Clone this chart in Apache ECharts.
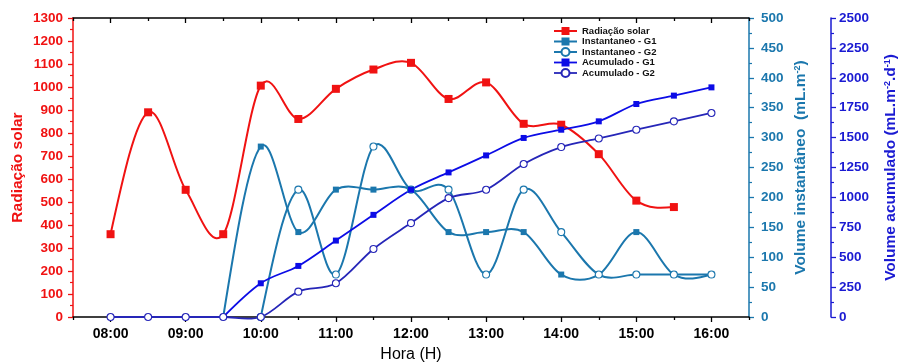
<!DOCTYPE html>
<html>
<head>
<meta charset="utf-8">
<script src="https://cdn.jsdelivr.net/npm/echarts@6/dist/echarts.min.js"></script>
<style>
  html, body { margin: 0; padding: 0; background: #fff; }
  #chart { width: 899px; height: 362px; }
</style>
</head>
<body>
<div id="chart"></div>
<script>
// Sampling times (half-hourly)
const times = ['08:00','08:30','09:00','09:30','10:00','10:30','11:00','11:30','12:00',
               '12:30','13:00','13:30','14:00','14:30','15:00','15:30','16:00'];

// Solar radiation (left axis)
const radiacaoSolar = [360, 890, 553, 360, 1006, 861, 992, 1076, 1105, 948, 1020, 840, 836, 708, 506, 478, null];

// Instantaneous volume, mL.m-2 (first right axis)
const instantaneoG1 = [null, null, null, 0, 285, 142, 213, 213, 213, 142, 142, 142, 71, 71, 142, 71, 71];
const instantaneoG2 = [null, null, null, null, 0, 213, 71, 285, 213, 213, 71, 213, 142, 71, 71, 71, 71];

// Accumulated volume, mL.m-2.d-1 (second right axis)
const acumuladoG1 = [null, null, null, 0, 282, 427, 639, 854, 1064, 1209, 1351, 1497, 1566, 1636, 1781, 1851, 1920];
const acumuladoG2 = [0, 0, 0, 0, 0, 212, 282, 569, 785, 994, 1064, 1279, 1421, 1493, 1566, 1636, 1706];

// Hour tick labels and half-hour minor ticks on the time axis
const hourLabels = ['08:00','09:00','10:00','11:00','12:00','13:00','14:00','15:00','16:00'];
const halfHourTicks = ['07:30','08:30','09:30','10:30','11:30','12:30','13:30','14:30','15:30','16:30'];

const toHours = s => { const p = s.split(':').map(Number); return p[0] + p[1] / 60; };
const pad2 = n => (n < 10 ? '0' : '') + n;
const fmtHour = v => pad2(Math.floor(v + 1e-6)) + ':' + pad2(Math.round((v - Math.floor(v + 1e-6)) * 60));

const pairs = arr => times.map((t, i) => [toHours(t), arr[i]]).filter(p => p[1] !== null);

const FONT = '"Liberation Sans", Arial, Helvetica, sans-serif';
const RED = '#f01212';
const TEAL = '#1b77ad';
const BLUE = '#0c0ce6';
const NAVY = '#2626b8';
const BLUE_AXIS = '#1a1ad2';

const X_MIN = 7.5, X_MAX = 16.5;
const hourVals = hourLabels.map(toHours);
const halfVals = halfHourTicks.map(toHours);

// Catmull-Rom spline through pixel points, as SVG path data.
// End tangents are chosen so the curve has zero curvature at the ends.
function splinePath(px) {
  const n = px.length;
  if (n < 2) return '';
  const tan = new Array(n);
  for (let i = 1; i < n - 1; i++) {
    tan[i] = [(px[i + 1][0] - px[i - 1][0]) / 2, (px[i + 1][1] - px[i - 1][1]) / 2];
  }
  if (n === 2) {
    tan[0] = [px[1][0] - px[0][0], px[1][1] - px[0][1]];
    tan[1] = tan[0];
  } else {
    tan[0] = [(3 * (px[1][0] - px[0][0]) - tan[1][0]) / 2, (3 * (px[1][1] - px[0][1]) - tan[1][1]) / 2];
    const k = n - 1;
    tan[k] = [(3 * (px[k][0] - px[k - 1][0]) - tan[k - 1][0]) / 2, (3 * (px[k][1] - px[k - 1][1]) - tan[k - 1][1]) / 2];
  }
  let path = 'M' + px[0][0] + ' ' + px[0][1];
  for (let i = 0; i < n - 1; i++) {
    const a = px[i], b = px[i + 1];
    path += ' C' + (a[0] + tan[i][0] / 3) + ' ' + (a[1] + tan[i][1] / 3) + ' ' +
            (b[0] - tan[i + 1][0] / 3) + ' ' + (b[1] - tan[i + 1][1] / 3) + ' ' +
            b[0] + ' ' + b[1];
  }
  return path;
}

function timeAxis(pos, withLabels, tickVals, tickLen, showLine) {
  const ax = {
    type: 'value', min: X_MIN, max: X_MAX, position: pos, gridIndex: 0,
    axisLine: { show: showLine, onZero: false, lineStyle: { color: '#000', width: 1.5 } },
    axisTick: { show: true, inside: pos === 'top', length: tickLen, customValues: tickVals,
                lineStyle: { color: '#000', width: 1.3 } },
    axisLabel: { show: withLabels },
    splitLine: { show: false }
  };
  if (withLabels) {
    ax.axisLabel = {
      show: true, customValues: hourVals, formatter: v => fmtHour(v),
      color: '#000', fontFamily: FONT, fontWeight: 'bold', fontSize: 14, margin: 10
    };
    ax.name = 'Hora (H)';
    ax.nameLocation = 'middle';
    ax.nameGap = 30;
    ax.nameMoveOverlap = false;
    ax.nameTextStyle = { color: '#000', fontFamily: FONT, fontSize: 16 };
  }
  return ax;
}

function valueAxis(opts) {
  return {
    type: 'value', min: 0, max: opts.max, interval: opts.interval,
    position: opts.position, offset: opts.offset || 0,
    axisLine: { show: true, onZero: false, lineStyle: { color: opts.color, width: 1.5 } },
    axisTick: { show: true, length: 5, lineStyle: { color: opts.color, width: 1.3 } },
    minorTick: { show: true, splitNumber: 2, length: 3, lineStyle: { color: opts.color, width: 1.2 } },
    axisLabel: { color: opts.color, fontFamily: FONT, fontWeight: 'bold', fontSize: 13.5,
                 margin: opts.margin, formatter: v => String(v) },
    splitLine: { show: false },
    minorSplitLine: { show: false },
    name: opts.name, nameLocation: 'middle', nameGap: opts.nameGap, nameMoveOverlap: false,
    nameTextStyle: {
      color: opts.color, fontFamily: FONT, fontWeight: 'bold', fontSize: 15.5,
      rich: { s: { color: opts.color, fontFamily: FONT, fontWeight: 'bold', fontSize: 9, verticalAlign: 'top', lineHeight: 9 } }
    }
  };
}

// Markers (and legend entry) for one plot; the curve itself is drawn by curveSeries
function markerSeries(name, arr, yIdx, color, symbol, size, filled, width) {
  return {
    name: name, type: 'line', xAxisIndex: 0, yAxisIndex: yIdx,
    data: pairs(arr), smooth: false,
    symbol: symbol, symbolSize: size, showSymbol: true,
    lineStyle: { color: color, width: width, opacity: 0 },
    itemStyle: filled ? { color: color, borderWidth: 0 }
                      : { color: '#fff', borderColor: color, borderWidth: 1.1 },
    emphasis: { disabled: true },
    z: 4
  };
}

// Spline curve through the data points, positioned with the axes' scales
function curveSeries(arr, yIdx, color, width) {
  const pts = pairs(arr);
  return {
    type: 'custom', xAxisIndex: 0, yAxisIndex: yIdx, silent: true, z: 3,
    data: pts, encode: { x: 0, y: 1 },
    renderItem: (params, api) => {
      if (params.dataIndex !== 0) return null;
      const px = pts.map(p => api.coord(p));
      return {
        type: 'path',
        shape: { pathData: splinePath(px) },
        style: { fill: 'none', stroke: color, lineWidth: width, lineJoin: 'round' }
      };
    }
  };
}

const plots = [
  { name: 'Radiação solar',   arr: radiacaoSolar, y: 0, color: RED,  symbol: 'rect',   size: 8, filled: true,  width: 2 },
  { name: 'Instantaneo - G1', arr: instantaneoG1, y: 1, color: TEAL, symbol: 'rect',   size: 6, filled: true,  width: 2 },
  { name: 'Instantaneo - G2', arr: instantaneoG2, y: 1, color: TEAL, symbol: 'circle', size: 7, filled: false, width: 2 },
  { name: 'Acumulado - G1',   arr: acumuladoG1,   y: 2, color: BLUE, symbol: 'rect',   size: 6, filled: true,  width: 1.8 },
  { name: 'Acumulado - G2',   arr: acumuladoG2,   y: 2, color: NAVY, symbol: 'circle', size: 7, filled: false, width: 1.8 }
];

const series = [];
plots.forEach(p => series.push(curveSeries(p.arr, p.y, p.color, p.width)));
plots.forEach(p => series.push(markerSeries(p.name, p.arr, p.y, p.color, p.symbol, p.size, p.filled, p.width)));

const chart = echarts.init(document.getElementById('chart'), null, { renderer: 'canvas' });
chart.setOption({
  animation: false,
  backgroundColor: '#fff',
  grid: { left: 73, right: 150, top: 18, bottom: 45, containLabel: false, outerBoundsMode: 'none' },
  legend: {
    orient: 'vertical', left: 553, top: 26, padding: 0,
    itemWidth: 23, itemHeight: 10, itemGap: 0.5,
    textStyle: { color: '#111', fontFamily: FONT, fontWeight: 'bold', fontSize: 9.5, lineHeight: 10 },
    data: plots.map(p => ({ name: p.name, lineStyle: { color: p.color, width: p.width, opacity: 1 } }))
  },
  xAxis: [
    timeAxis('bottom', true, hourVals, 5, true),
    timeAxis('bottom', false, halfVals, 3, false),
    timeAxis('top', false, hourVals, 5, true),
    timeAxis('top', false, halfVals, 3, false)
  ],
  yAxis: [
    valueAxis({ max: 1300, interval: 100, position: 'left', color: RED, margin: 10,
                name: 'Radiação solar', nameGap: 47 }),
    valueAxis({ max: 500, interval: 50, position: 'right', color: TEAL, margin: 12,
                name: 'Volume instantâneo  (mL.m{s|-2})', nameGap: 44 }),
    valueAxis({ max: 2500, interval: 250, position: 'right', offset: 82, color: BLUE_AXIS, margin: 8,
                name: 'Volume acumulado (mL.m{s|-2}.d{s|-1})', nameGap: 52 })
  ],
  series: series
});
</script>
</body>
</html>
